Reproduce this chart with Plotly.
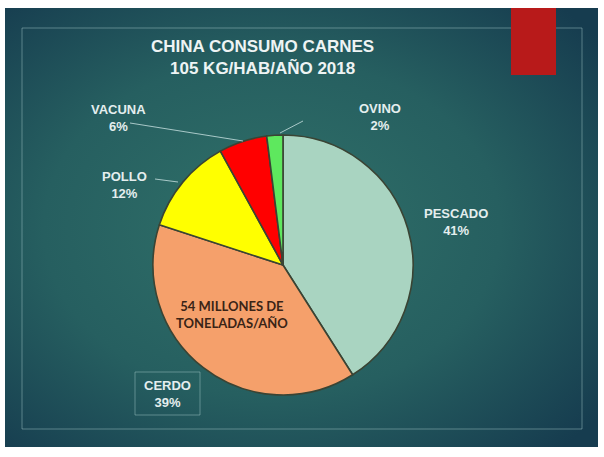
import base64
import plotly.graph_objects as go

# datos
labels = ["PESCADO", "CERDO", "POLLO", "VACUNA", "OVINO"]
values = [41, 39, 12, 6, 2]
colors = ["#a9d4c1", "#f5a06b", "#ffff00", "#ff0000", "#5ee85e"]

title_lines = ["CHINA CONSUMO CARNES", "105 KG/HAB/AÑO 2018"]
centre_note = "54 MILLONES DE<br>TONELADAS/AÑO"

W, H = 604, 457


def px_x(x):
    return x / W


def px_y(y):
    return 1 - y / H


# fondo degradado de la diapositiva
svg = (
    '<svg xmlns="http://www.w3.org/2000/svg" width="593" height="439">'
    '<defs><radialGradient id="g" cx="45%" cy="50%" r="70%">'
    '<stop offset="0" stop-color="#307169"/>'
    '<stop offset="0.55" stop-color="#265f60"/>'
    '<stop offset="1" stop-color="#163c4f"/>'
    '</radialGradient></defs>'
    '<rect width="100%" height="100%" fill="url(#g)"/></svg>'
)
bg_src = "data:image/svg+xml;base64," + base64.b64encode(svg.encode()).decode()

fig = go.Figure(go.Pie(
    labels=labels,
    values=values,
    sort=False,
    direction="clockwise",
    rotation=0,
    textinfo="none",
    hoverinfo="label+percent",
    marker=dict(colors=colors, line=dict(color="#3a4434", width=1.6)),
    domain=dict(x=[px_x(153), px_x(413)], y=[px_y(395), px_y(135)]),
    showlegend=False,
))

label_font = dict(family="Liberation Sans, Arial, sans-serif", size=13, color="#e4eeee")
label_pos = {
    "PESCADO": (456, 222),
    "CERDO": (167, 394),
    "POLLO": (124, 185),
    "VACUNA": (118, 118),
    "OVINO": (380, 117),
}
annotations = []
for lab, v in zip(labels, values):
    x, y = label_pos[lab]
    annotations.append(dict(
        x=px_x(x), y=px_y(y), xref="paper", yref="paper",
        xanchor="center", yanchor="middle",
        text=f"<b>{lab}<br>{v}%</b>", showarrow=False,
        font=label_font, align="center",
    ))

annotations.append(dict(
    x=px_x(262), y=px_y(58), xref="paper", yref="paper",
    xanchor="center", yanchor="middle",
    text="<b>" + "<br>".join(title_lines) + "</b>", showarrow=False,
    font=dict(family="Liberation Sans, Arial, sans-serif", size=17, color="#eef4f4"),
    align="center",
))
annotations.append(dict(
    x=px_x(232), y=px_y(314), xref="paper", yref="paper",
    xanchor="center", yanchor="middle",
    text="<b>" + centre_note + "</b>", showarrow=False,
    font=dict(family="Lato, Open Sans, sans-serif", size=13, color="#3a2416"),
    align="center",
))

frame = "rgba(170,205,205,0.45)"
shapes = [
    # marco interior
    dict(type="rect", xref="paper", yref="paper",
         x0=px_x(22), x1=px_x(582), y0=px_y(429), y1=px_y(28),
         line=dict(color=frame, width=1), layer="below"),
    # barra roja
    dict(type="rect", xref="paper", yref="paper",
         x0=px_x(511), x1=px_x(556), y0=px_y(75), y1=px_y(8),
         line=dict(width=0), fillcolor="#b81a1a", layer="below"),
    # recuadro CERDO
    dict(type="rect", xref="paper", yref="paper",
         x0=px_x(135), x1=px_x(200), y0=px_y(415), y1=px_y(372),
         line=dict(color=frame, width=1)),
]
# líneas guía
leaders = [((130, 123), (243, 141)), ((155, 179), (178, 182)), ((280, 133), (303, 121))]
for (xa, ya), (xb, yb) in leaders:
    shapes.append(dict(type="line", xref="paper", yref="paper",
                       x0=px_x(xa), y0=px_y(ya), x1=px_x(xb), y1=px_y(yb),
                       line=dict(color="rgba(200,225,225,0.8)", width=1)))

fig.update_layout(
    width=W, height=H,
    margin=dict(l=0, r=0, t=0, b=0),
    paper_bgcolor="white",
    plot_bgcolor="white",
    images=[dict(source=bg_src, xref="paper", yref="paper",
                 x=px_x(5), y=px_y(8), sizex=593 / W, sizey=439 / H,
                 xanchor="left", yanchor="top", sizing="stretch", layer="below")],
    shapes=shapes,
    annotations=annotations,
)

fig.write_html("out.html", config={"displayModeBar": False},
               post_script="document.body.style.margin='0';")
